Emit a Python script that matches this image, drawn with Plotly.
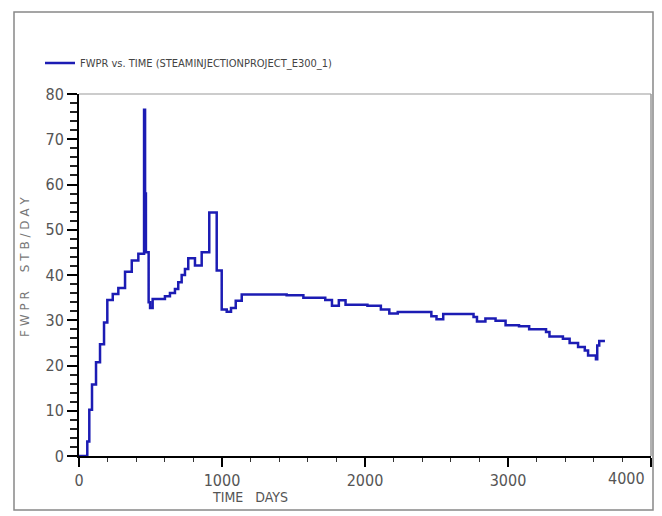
import plotly.graph_objects as go

# FWPR vs time (step-wise simulator output)
TIME_DAYS = [0, 49, 58, 72, 91, 119, 147, 175, 198, 236, 275, 322, 369, 415,
             455, 462, 468, 487, 497, 515, 601, 636, 671, 694, 718, 741, 764,
             811, 858, 911, 963, 998, 1033, 1063, 1096, 1138, 1452, 1569,
             1722, 1769, 1817, 1864, 2017, 2111, 2170, 2229, 2429, 2464,
             2500, 2547, 2759, 2783, 2842, 2913, 2983, 3077, 3148, 3266,
             3290, 3384, 3431, 3490, 3537, 3560, 3615, 3624, 3638, 3678]
FWPR = [0, 0, 3.2, 10.2, 15.8, 20.7, 24.7, 29.5, 34.5, 35.8, 37.1, 40.7,
        43.2, 44.7, 76.5, 58, 45, 34, 32.7, 34.7, 35.3, 36.0, 36.9, 38.4,
        40.0, 41.3, 43.7, 42.1, 45.0, 53.8, 41.0, 32.4, 31.9, 32.7, 34.3,
        35.7, 35.5, 35.0, 34.5, 33.2, 34.4, 33.4, 33.2, 32.4, 31.5, 31.8,
        31.8, 30.9, 30.2, 31.4, 30.7, 29.7, 30.4, 29.9, 28.9, 28.7, 28.0,
        27.4, 26.4, 25.9, 25.0, 24.1, 23.3, 22.2, 21.4, 24.4, 25.4, 25.4]

X_TICKS = [0, 1000, 2000, 3000, 4000]
X_TICK_TEXT = ["0", "1000", "2000", "3000", ""]  # last label is drawn pulled inside
Y_TICKS = [0, 10, 20, 30, 40, 50, 60, 70, 80]

NARROW = "Liberation Sans Narrow, Arial Narrow, DejaVu Sans Condensed, sans-serif"
LINE_BLUE = "#1c1cb4"

# the page body adds an 8px margin, so the figure is 8px smaller each way
W, H = 654, 508
L, R, T, B = 71, 11, 86, 60
PW, PH = W - L - R, H - T - B


def px_x(x):
    # figure pixel -> paper x
    return (x - L) / PW


def px_y(y):
    # figure pixel -> paper y
    return (H - B - y) / PH


fig = go.Figure()
fig.add_trace(go.Scatter(
    x=TIME_DAYS, y=FWPR, mode="lines", line_shape="hv",
    name="FWPR vs. TIME (STEAMINJECTIONPROJECT_E300_1)",
    line=dict(color=LINE_BLUE, width=2.5),
))

tick_font = dict(family=NARROW, size=16, color="#555555")
axis_common = dict(
    showline=True, linecolor="black", linewidth=2,
    ticks="outside", tickcolor="black", tickwidth=2,
    showgrid=False, zeroline=False, tickfont=tick_font,
)

fig.update_xaxes(range=[0, 4000], tickvals=X_TICKS, ticktext=X_TICK_TEXT,
                 ticklen=9,
                 minor=dict(dtick=200, ticks="outside", ticklen=4,
                            tickwidth=1, tickcolor="#333"),
                 **axis_common)
fig.update_yaxes(range=[0, 80], tickvals=Y_TICKS, ticklen=10,
                 minor=dict(dtick=2, ticks="outside", ticklen=7,
                            tickwidth=1.5, tickcolor="#222"),
                 **axis_common)

# "4000" sits just left of its tick, as in the reference
fig.add_annotation(text=str(X_TICKS[-1]), xref="x", yref="paper",
                   x=X_TICKS[-1], y=0, xanchor="right", yanchor="top",
                   xshift=-4, yshift=-11, showarrow=False, font=tick_font)

# axis titles placed as in the reference (x title is off-centre)
fig.add_annotation(text="TIME   DAYS", xref="paper", yref="paper",
                   x=px_x(242), y=px_y(489), xanchor="center",
                   yanchor="middle", showarrow=False,
                   font=dict(family=NARROW, size=14, color="#555555"))
fig.add_annotation(text="F W P R     S T B / D A Y", xref="paper", yref="paper",
                   x=px_x(17), y=px_y(259), xanchor="center",
                   yanchor="middle", showarrow=False, textangle=-90,
                   font=dict(family="DejaVu Sans", size=12, color="#777777"))

# light top/right border of the plot area and the outer frame
fig.add_shape(type="line", xref="paper", yref="paper", x0=0, x1=1, y0=1, y1=1,
              line=dict(color="#bbbbbb", width=1.5))
fig.add_shape(type="line", xref="paper", yref="paper", x0=1, x1=1, y0=0, y1=1,
              line=dict(color="#999999", width=1.5))
fig.add_shape(type="rect", xref="paper", yref="paper",
              x0=px_x(6), x1=px_x(645), y0=px_y(502), y1=px_y(4),
              line=dict(color="#888888", width=1.5))

fig.update_layout(
    width=W, height=H,
    margin=dict(l=L, r=R, t=T, b=B),
    plot_bgcolor="white", paper_bgcolor="white",
    showlegend=True,
    legend=dict(x=px_x(32), y=px_y(55), xanchor="left",
                yanchor="middle", bgcolor="rgba(0,0,0,0)",
                font=dict(family=NARROW, size=11, color="#444444")),
)

fig.write_html("out.html")
